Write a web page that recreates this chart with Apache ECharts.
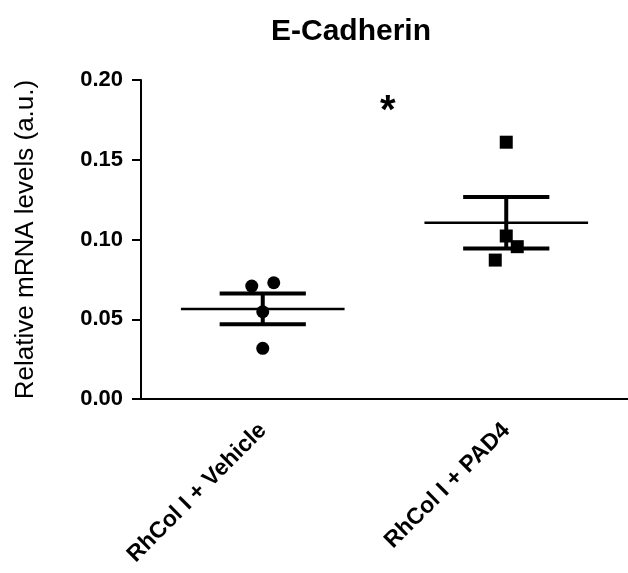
<!DOCTYPE html>
<html>
<head>
<meta charset="utf-8">
<script src="https://cdn.jsdelivr.net/npm/echarts@6/dist/echarts.min.js"></script>
<style>
  html, body { margin: 0; padding: 0; background: #fff; }
  #chart { width: 628px; height: 573px; }
</style>
</head>
<body>
<div id="chart"></div>
<script>
// groups on the x axis
var categories = ['RhCol I + Vehicle', 'RhCol I + PAD4'];
var vehicleValues = [0.0708, 0.0729, 0.0547, 0.0318];
var pad4Values = [0.161, 0.1022, 0.0955, 0.0871];
// mean and SEM for each group
var groupMeans = [0.0565, 0.1105];
var groupSem = [0.0097, 0.0162];

// small horizontal jitter for the points (pixels)
var vehicleJitter = [-11, 11, 0, 0];
var pad4Jitter = [0, 0, 11, -11];

var font = 'Liberation Sans, Arial, sans-serif';
var myChart = echarts.init(document.getElementById('chart'));

function pointData(ci, vals, jit) {
    return vals.map(function (v, i) {
        return { value: [ci, v], symbolOffset: [jit[i], 0] };
    });
}

var statData = groupMeans.map(function (m, i) {
    return [i, m, groupSem[i]];
});

var option = {
    animation: false,
    title: {
        text: 'E-Cadherin',
        left: 346,
        textAlign: 'center',
        top: 12,
        textStyle: { fontFamily: font, fontSize: 30, fontWeight: 'bold', color: '#000' }
    },
    grid: { left: 141, right: 0, top: 80, bottom: 174 },
    xAxis: {
        type: 'category',
        data: categories,
        boundaryGap: true,
        axisLine: { lineStyle: { color: '#000', width: 2 } },
        axisTick: { alignWithLabel: true, length: 7, lineStyle: { color: '#000', width: 2 } },
        axisLabel: {
            rotate: 45,
            margin: 28,
            color: '#000',
            fontFamily: font,
            fontSize: 23,
            fontWeight: 'bold'
        }
    },
    yAxis: {
        type: 'value',
        min: 0,
        max: 0.2,
        interval: 0.05,
        name: 'Relative mRNA levels (a.u.)',
        nameLocation: 'middle',
        nameGap: 102,
        nameTextStyle: { fontFamily: font, fontSize: 26, color: '#000' },
        splitLine: { show: false },
        axisLine: { show: true, lineStyle: { color: '#000', width: 2 } },
        axisTick: { show: true, length: 9, lineStyle: { color: '#000', width: 2 } },
        axisLabel: {
            margin: 18,
            color: '#000',
            fontFamily: font,
            fontSize: 22,
            fontWeight: 'bold',
            formatter: function (v) { return v.toFixed(2); }
        }
    },
    series: [
        {
            type: 'custom',
            data: statData,
            z: 3,
            renderItem: function (params, api) {
                var ci = api.value(0);
                var m = api.value(1);
                var s = api.value(2);
                var band = api.size([1, 0])[0];
                var c = api.coord([ci, m]);
                var top = api.coord([ci, m + s]);
                var bot = api.coord([ci, m - s]);
                var half = band * 0.336;
                var cap = band * 0.177;
                var st = { stroke: '#000', lineWidth: 4 };
                return {
                    type: 'group',
                    children: [
                        { type: 'line', shape: { x1: c[0] - half, y1: c[1], x2: c[0] + half, y2: c[1] }, style: { stroke: '#000', lineWidth: 2.5 } },
                        { type: 'line', shape: { x1: c[0], y1: top[1], x2: c[0], y2: bot[1] }, style: st },
                        { type: 'line', shape: { x1: c[0] - cap, y1: top[1], x2: c[0] + cap, y2: top[1] }, style: st },
                        { type: 'line', shape: { x1: c[0] - cap, y1: bot[1], x2: c[0] + cap, y2: bot[1] }, style: st }
                    ]
                };
            }
        },
        {
            type: 'scatter',
            name: categories[0],
            data: pointData(0, vehicleValues, vehicleJitter),
            symbol: 'circle',
            symbolSize: 13,
            itemStyle: { color: '#000', opacity: 1 },
            z: 4
        },
        {
            type: 'scatter',
            name: categories[1],
            data: pointData(1, pad4Values, pad4Jitter),
            symbol: 'rect',
            symbolSize: 13,
            itemStyle: { color: '#000', opacity: 1 },
            z: 4
        }
    ],
    graphic: [
        {
            type: 'text',
            left: 380,
            top: 92,
            style: { text: '*', fill: '#000', fontFamily: font, fontSize: 40, fontWeight: 'bold' }
        }
    ]
};

myChart.setOption(option);
window.addEventListener('resize', function () {
    myChart.resize();
});
</script>
</body>
</html>
